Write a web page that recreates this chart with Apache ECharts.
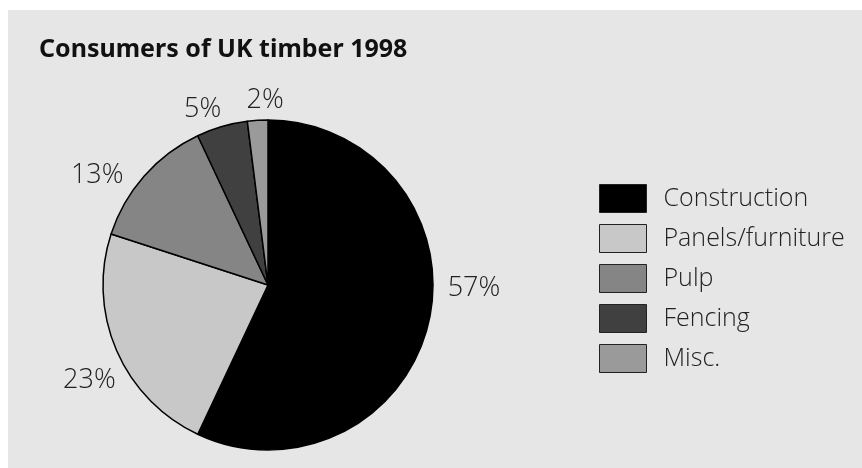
<!DOCTYPE html>
<html>
<head>
<meta charset="utf-8">
<script src="https://cdn.jsdelivr.net/npm/echarts@6/dist/echarts.min.js"></script>
<style>
  html, body { margin: 0; padding: 0; background: #fff; }
  #chart { width: 862px; height: 468px; }
</style>
</head>
<body>
<div id="chart"></div>
<script>
const categories = ['Construction', 'Panels/furniture', 'Pulp', 'Fencing', 'Misc.']
const shares = [57, 23, 13, 5, 2]
const colors = ['#000000', '#c8c8c8', '#858585', '#404040', '#9a9a9a']
// small hand nudges so the % labels sit where the original put them
const labelNudge = [[0, -36], [17, 24], [-10, 9], [52, -26], [32, -6]]

const chart = echarts.init(document.getElementById('chart'))
const labelFont = "'Open Sans', 'Noto Sans', sans-serif"

const option = {
  animation: false,
  backgroundColor: '#ffffff',
  graphic: [{
    type: 'rect',
    left: 8, top: 10,
    shape: { width: 854, height: 458 },
    style: { fill: '#e6e6e6' },
    z: -10
  }],
  title: {
    text: 'Consumers of UK timber 1998',
    left: 34, top: 32,
    textStyle: { fontFamily: "'Noto Sans', sans-serif", fontWeight: 'bold', fontSize: 25, color: '#111' }
  },
  legend: {
    orient: 'vertical',
    left: 599, top: 184,
    padding: 0,
    itemWidth: 47, itemHeight: 28,
    itemGap: 11,
    icon: 'rect',
    selectedMode: false,
    itemStyle: { borderColor: '#222', borderWidth: 1 },
    textStyle: {
      fontFamily: labelFont, fontWeight: 300, fontSize: 25, color: '#222',
      lineHeight: 28, padding: [0, 0, 0, 12]
    },
    data: categories
  },
  series: [{
    type: 'pie',
    center: [268, 285],
    radius: 165,
    startAngle: 90,
    clockwise: true,
    data: categories.map((c, i) => ({ name: c, value: shares[i], itemStyle: { color: colors[i] } })),
    itemStyle: { borderColor: '#000', borderWidth: 1.5 },
    label: {
      show: true,
      position: 'outside',
      formatter: '{c}%',
      fontFamily: labelFont,
      fontWeight: 300,
      fontSize: 27,
      color: '#222'
    },
    labelLine: { show: false, length: 14, length2: 0 },
    labelLayout: p => ({ dx: labelNudge[p.dataIndex][0], dy: labelNudge[p.dataIndex][1] }),
    emphasis: { disabled: true }
  }]
}
chart.setOption(option)
</script>
</body>
</html>
